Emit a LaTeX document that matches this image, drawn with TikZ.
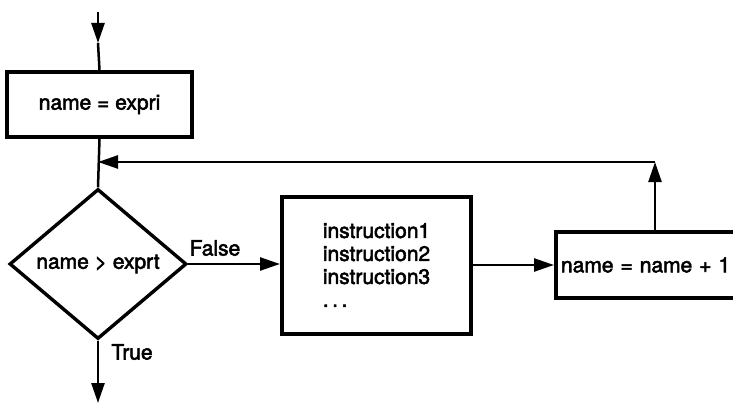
\documentclass[tikz,border=0pt]{standalone}
\usepackage{fontspec}
\setmainfont{TeX Gyre Heros}
\newfontfamily\flowfam{TeX Gyre Heros}[FakeBold=2.5]
\usetikzlibrary{arrows.meta,shapes.geometric}
\newcommand\flowfont{\flowfam\fontsize{21}{23}\selectfont}
\tikzset{%
  box/.style={draw,line width=4pt,inner sep=0pt,font=\flowfont},
  test/.style={diamond,draw,line width=3.4pt,inner sep=0pt,aspect=1.2,font=\flowfont},
  flow/.style={line width=2.5pt,-{Triangle[length=20pt,width=13pt]}},
  link/.style={line width=2.5pt},
  tag/.style={font=\flowfont}
}

\begin{document}
\begin{tikzpicture}[x=1pt,y=-1pt]
  \clip (0,0) rectangle (733,404);
  % Boxes
  \node[box,minimum width=185pt,minimum height=65pt] (init) at (99.5,104.5) {name = expri};
  \node[test,minimum width=177pt,minimum height=150pt] (cond) at (98,264) {name > exprt};
  \node[box,minimum width=189pt,minimum height=137pt,align=left] (body) at (376.5,265)
    {instruction1\\instruction2\\instruction3\\.\,.\,.};
  \node[box,minimum width=198pt,minimum height=66pt,text width=188pt,align=left] (incr) at (655,265)
    {name = name + 1};
  % Labels
  \node[tag] (no) at (215,248) {False};
  \node[tag] (yes) at (132,352) {True};
  % Connectors
  \coordinate (in) at (98,12);
  \coordinate (inTip) at (98,43);
  \coordinate (join) at (98,162);
  \coordinate (turn) at (incr.north |- join);
  \coordinate (out) at (98,403);
  \draw[flow] (in) -- (inTip);
  \draw[link] (inTip) -- (init.north);
  \draw[link] (init.south) -- (cond.north);
  \draw[flow] (cond.east) -- (cond.east -| body.west);
  \draw[flow] (body.east) -- (incr.west);
  \draw[flow] (incr.north) -- (turn);
  \draw[flow] (turn) -- (join);
  \draw[flow] (cond.south) -- (out);
\end{tikzpicture}
\end{document}
